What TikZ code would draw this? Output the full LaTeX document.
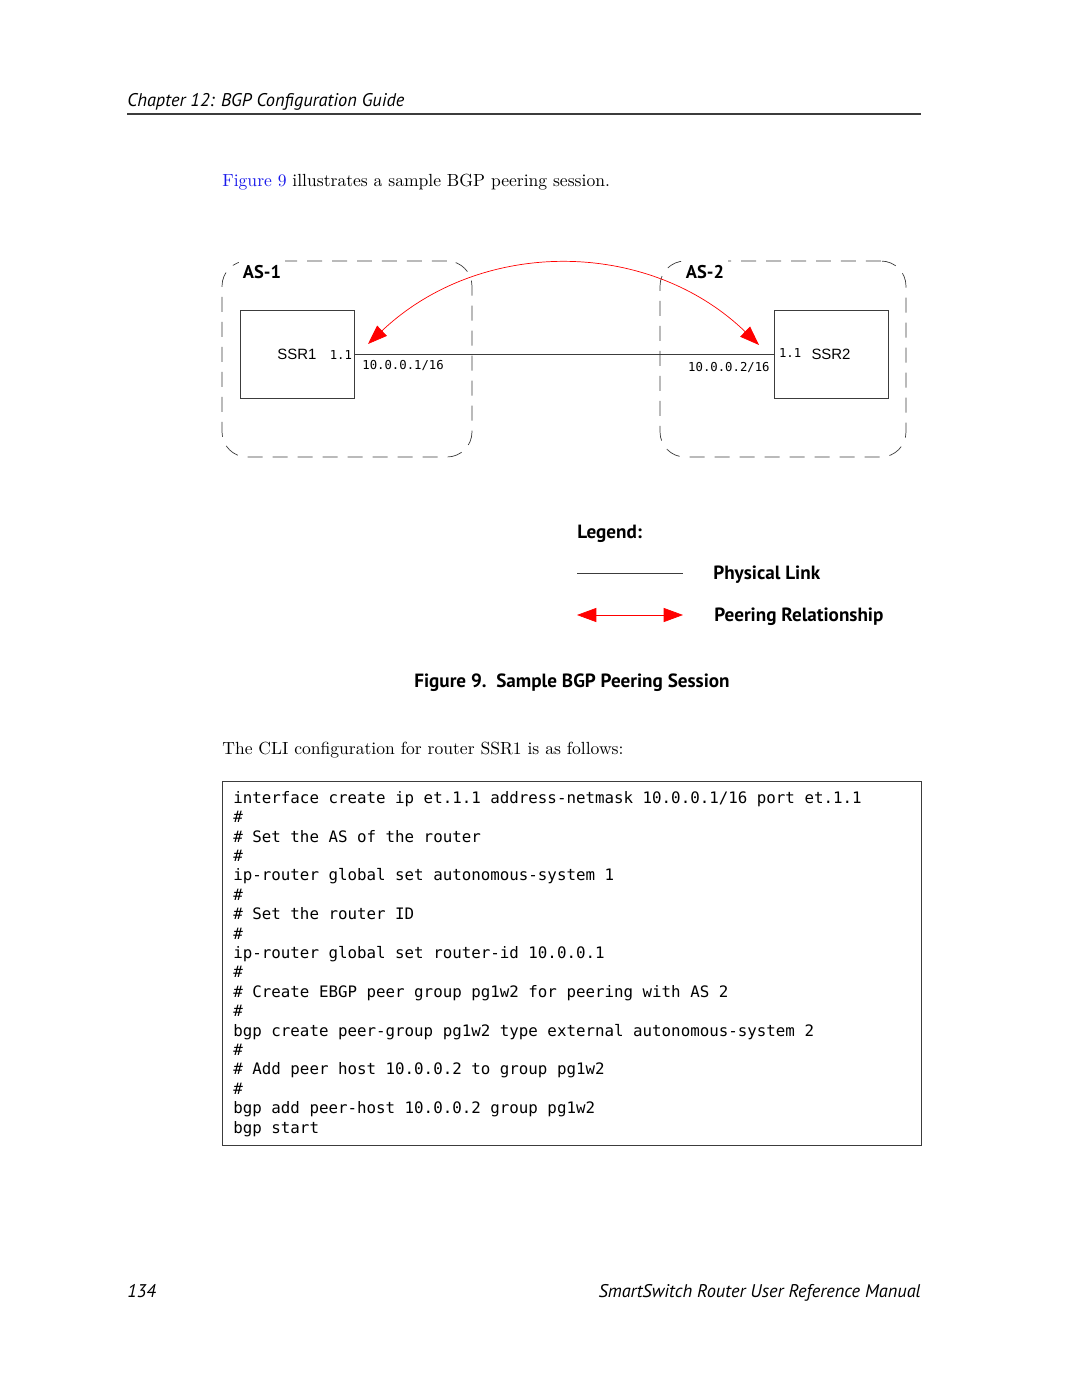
\documentclass[tikz,border=0pt]{standalone}
\usepackage{fontspec}
\usetikzlibrary{arrows.meta}
\usetikzlibrary{calc}

\newfontfamily\frutfont{PT Sans}
\newfontfamily\helvfont{Liberation Sans}
\newfontfamily\codefont{DejaVu Sans Mono}

\definecolor{linkblue}{RGB}{25,25,235}
\definecolor{peerred}{RGB}{255,0,0}
\definecolor{boxgray}{RGB}{60,60,60}

\tikzset{
  asbox/.style={draw=boxgray, rounded corners=0.5cm, dash pattern=on 0.3cm off 0.2cm, inner sep=0pt},
  router/.style={draw=boxgray, minimum width=2.28cm, minimum height=1.76cm, inner sep=0pt,
    font=\helvfont\fontsize{8.5}{10}\selectfont},
  aslabel/.style={font=\frutfont\bfseries\fontsize{10.5}{12}\selectfont, fill=white, inner xsep=2pt, inner ysep=4pt},
  portlabel/.style={font=\codefont\fontsize{7}{8}\selectfont, inner sep=0pt},
  peering/.style={draw=peerred, {Triangle[length=11pt,width=8pt]}-{Triangle[length=11pt,width=8pt]}},
  legendtext/.style={font=\frutfont\bfseries\fontsize{10.9}{12}\selectfont, anchor=west, inner sep=0pt},
  pagetext/.style={font=\fontsize{10}{12}\selectfont, anchor=base west, inner sep=0pt},
  runhead/.style={font=\frutfont\itshape\fontsize{10.45}{12}\selectfont, inner sep=0pt},
}

\begin{document}
\begin{tikzpicture}[x=0.02cm, y=-0.02cm]
  \fill[white] (0,0) rectangle (1080,1397);
  \useasboundingbox (0,0) rectangle (1080,1397);

  % running head
  \node[runhead, anchor=base west] (chapter) at (127,106) {Chapter 12: BGP Configuration Guide};
  \draw[boxgray, line width=0.6pt] (127,114) -- (921,114);

  \node[pagetext] (intro) at (222,186) {\textcolor{linkblue}{Figure 9} illustrates a sample BGP peering session.};

  % autonomous systems
  \node[asbox, minimum width=5cm, minimum height=3.92cm] (as1) at (347,359) {};
  \node[asbox, minimum width=4.92cm, minimum height=3.92cm] (as2) at (783,359) {};
  \node[aslabel] (as1label) at (262,272) {AS-1};
  \node[aslabel] (as2label) at (705,272) {AS-2};

  % routers
  \node[router] (ssr1) at (297,354) {SSR1};
  \node[router] (ssr2) at (831,354) {SSR2};

  \draw[boxgray] (ssr1.east) -- (ssr2.west);
  \node[portlabel, anchor=east] (port1) at ($(ssr1.east)+(-2,1)$) {1.1};
  \node[portlabel, anchor=west] (port2) at ($(ssr2.west)+(5,-1)$) {1.1};
  \node[portlabel, anchor=west] (addr1) at (362,365) {10.0.0.1/16};
  \node[portlabel, anchor=east] (addr2) at (770,367) {10.0.0.2/16};

  % bgp peering
  \coordinate (peer1) at (368,344);
  \coordinate (peer2) at (759,345);
  \draw[peering] (peer1) .. controls (480,238) and (648,238) .. (peer2);

  % legend
  \node[legendtext] (legend) at (577,534) {Legend:};
  \coordinate (phys1) at (577,573);
  \coordinate (phys2) at (683,573);
  \draw[boxgray] (phys1) -- (phys2);
  \node[legendtext] (physlabel) at (713,575) {Physical Link};
  \coordinate (peerA) at (577,615);
  \coordinate (peerB) at (683,615);
  \draw[peering] (peerA) -- (peerB);
  \node[legendtext] (peerlabel) at (714,617) {Peering Relationship};

  \node[legendtext, anchor=center] (caption) at (572,683) {Figure 9.\ \ Sample BGP Peering Session};

  \node[pagetext] (clitext) at (222,754) {The CLI configuration for router SSR1 is as follows:};

  % configuration listing
  \node[draw=boxgray, minimum width=13.98cm, minimum height=7.28cm, inner sep=0pt] (codebox) at (571.5,963) {};
  \node[anchor=north west, inner sep=0pt, align=left, font=\codefont\fontsize{9}{11.04}\selectfont] (code) at (233,791) {%
interface create ip et.1.1 address-netmask 10.0.0.1/16 port et.1.1\\
\#\\
\# Set the AS of the router\\
\#\\
ip-router global set autonomous-system 1\\
\#\\
\# Set the router ID\\
\#\\
ip-router global set router-id 10.0.0.1\\
\#\\
\# Create EBGP peer group pg1w2 for peering with AS 2\\
\#\\
bgp create peer-group pg1w2 type external autonomous-system 2\\
\#\\
\# Add peer host 10.0.0.2 to group pg1w2\\
\#\\
bgp add peer-host 10.0.0.2 group pg1w2\\
bgp start};

  % running foot
  \node[runhead, anchor=base west] (pagenum) at (127,1297) {134};
  \node[runhead, anchor=base east] (manual) at (921,1297) {SmartSwitch Router User Reference Manual};
\end{tikzpicture}
\end{document}
